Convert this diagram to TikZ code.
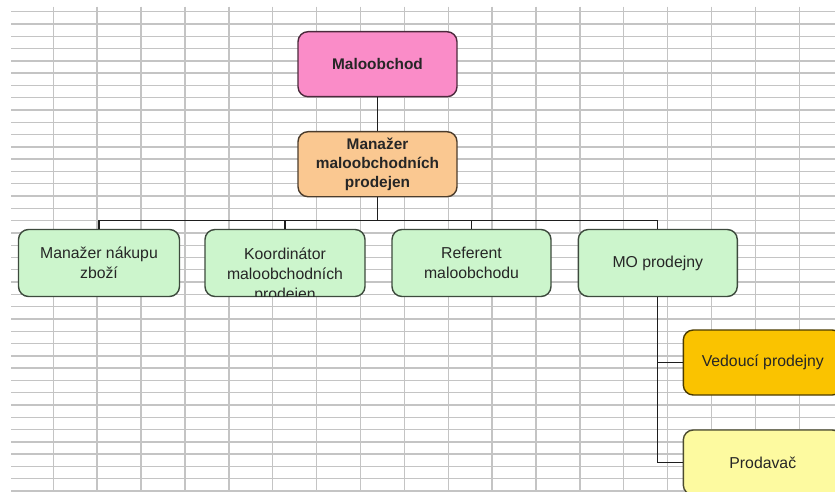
\documentclass[tikz,border=0pt]{standalone}
\usepackage{fontspec}
\setmainfont{Liberation Sans}
\definecolor{gridc}{RGB}{196,196,196}
\definecolor{pinkc}{RGB}{250,140,200}
\definecolor{peachc}{RGB}{250,200,145}
\definecolor{greenc}{RGB}{204,245,204}
\definecolor{orangec}{RGB}{250,195,0}
\definecolor{yellowc}{RGB}{253,250,160}
\definecolor{txtc}{RGB}{38,38,38}
\definecolor{linec}{RGB}{30,30,30}
\tikzset{
  gridline/.style={draw=gridc, line width=1.4pt},
  box/.style={rectangle, rounded corners=10pt, line width=1.4pt, minimum width=159pt, minimum height=65pt, align=center, text=txtc, inner sep=0pt},
  boxfill/.style={box, fill=#1, draw=#1!30!black},
  regtxt/.style={font=\fontsize{15.8}{19.5}\selectfont},
  boldtxt/.style={font=\fontsize{15.4}{19}\selectfont\bfseries},
  txtonly/.style={align=center, text=txtc, inner sep=0pt, font=\fontsize{15.8}{20}\selectfont},
  conn/.style={draw=linec, line width=1.3pt}
}
\begin{document}
\begin{tikzpicture}[x=1pt,y=-1pt]
\useasboundingbox (0,0) rectangle (835,492);
\clip (0,0) rectangle (835,492);
\fill[white] (0,0) rectangle (835,492);
% spreadsheet grid
\foreach \i in {0,...,39} \draw[gridline] (11,{11.7+12.29*\i}) -- (835,{11.7+12.29*\i});
\foreach \i in {0,...,17} \draw[gridline] ({53.3+43.88*\i},6.7) -- ({53.3+43.88*\i},492);
% nodes
\node[boxfill=pinkc, boldtxt] (malo) at (377.5,64.2) {Maloobchod};
\node[boxfill=peachc, boldtxt] (man) at (377.5,164.2) {Manažer\\maloobchodních\\prodejen};
\node[boxfill=greenc, regtxt, minimum width=161pt, minimum height=67pt] (c1) at (99,263) {Manažer nákupu\\zboží};
\node[boxfill=greenc, minimum width=160pt, minimum height=67pt] (c2) at (285,263) {};
\begin{scope}
  \clip[rounded corners=9pt] ([shift={(1,1)}]c2.north west) rectangle ([shift={(-1,-1)}]c2.south east);
  \node[txtonly] (c2t) at (285,275.8) {Koordinátor\\maloobchodních\\prodejen};
\end{scope}
\node[boxfill=greenc, regtxt, minimum width=159pt, minimum height=67pt] (c3) at (471.5,263) {Referent\\maloobchodu};
\node[boxfill=greenc, regtxt, minimum width=159pt, minimum height=67pt] (c4) at (657.8,263) {MO prodejny};
\node[boxfill=orangec, regtxt] (ved) at (762.8,362.5) {Vedoucí prodejny};
\node[boxfill=yellowc, regtxt] (prod) at (762.8,462.5) {Prodavač};
% connectors
\coordinate (bus) at (0,220.7);
\draw[conn] (malo) -- (man);
\draw[conn] (man.south) -- (man.south |- bus);
\draw[conn] (c1.north) |- (c4.north |- bus) -- (c4.north);
\draw[conn] (c2.north) -- (c2.north |- bus);
\draw[conn] (c3.north) -- (c3.north |- bus);
\draw[conn] (c4.south) |- (ved.west);
\draw[conn] (c4.south) |- (prod.west);
\end{tikzpicture}
\end{document}
